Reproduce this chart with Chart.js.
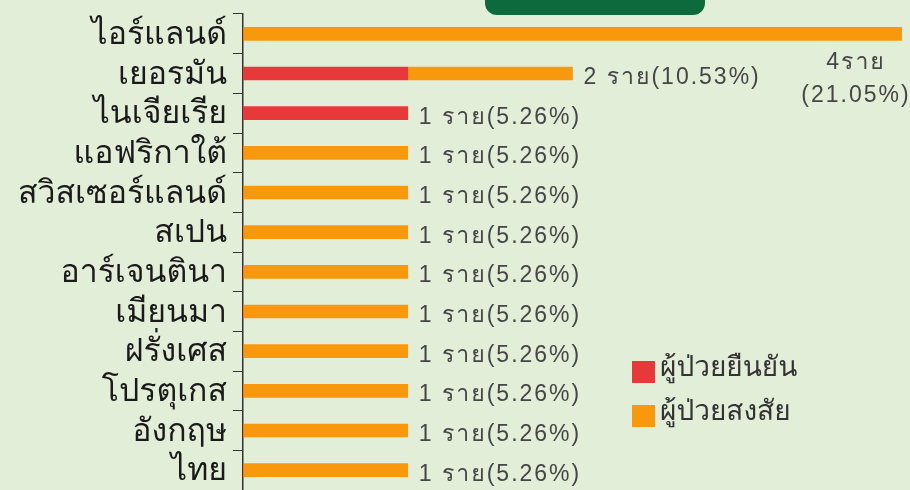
<!DOCTYPE html>
<html>
<head>
<meta charset="utf-8">
<script src="https://cdn.jsdelivr.net/npm/chart.js@4"></script>
<style>
    html, body { margin: 0; padding: 0; background: #e2eed8; }
    #wrap { position: relative; width: 910px; height: 490px; overflow: hidden; }
    #titleBox { position: absolute; left: 485px; top: -24px; width: 220px; height: 39px;
        background: #0c6a3c; border-radius: 12px; }
</style>
</head>
<body>
<div id="wrap">
    <div id="titleBox"></div>
    <canvas id="myChart" width="910" height="490"></canvas>
</div>
<script>
let countries = ['ไอร์แลนด์', 'เยอรมัน', 'ไนเจียเรีย', 'แอฟริกาใต้', 'สวิสเซอร์แลนด์', 'สเปน',
    'อาร์เจนตินา', 'เมียนมา', 'ฝรั่งเศส', 'โปรตุเกส', 'อังกฤษ', 'ไทย'];
let confirmed = [0, 1, 1, 0, 0, 0, 0, 0, 0, 0, 0, 0];
let suspected = [4, 1, 0, 1, 1, 1, 1, 1, 1, 1, 1, 1];
let totalCases = 19;

let thaiFont = 'Loma, "Noto Sans Thai Looped", sans-serif';
let numFont = '"Liberation Sans", Loma, sans-serif';

// ป้ายจำนวน/เปอร์เซ็นต์ท้ายแท่ง
let barLabels = {
    id: 'barLabels',
    afterDatasetsDraw(chart) {
        let ctx = chart.ctx;
        let x = chart.scales.x;
        let y = chart.scales.y;
        ctx.save();
        ctx.fillStyle = '#454545';
        ctx.font = '23px ' + numFont;
        ctx.letterSpacing = '2px';
        ctx.textBaseline = 'middle';
        for (let i = 0; i < countries.length; i++) {
            let n = confirmed[i] + suspected[i];
            let pct = (n / totalCases * 100).toFixed(2) + '%';
            let end = x.getPixelForValue(n);
            let py = y.getPixelForValue(i);
            if (end + 150 > chart.chartArea.right) {
                ctx.textAlign = 'center';
                ctx.fillText(n + 'ราย', 856, py + 29);
                ctx.fillText('(' + pct + ')', 856, py + 62);
            } else {
                ctx.textAlign = 'left';
                ctx.fillText(n + ' ราย(' + pct + ')', end + 11, py + 4);
            }
        }
        ctx.restore();
    }
};

let squareLegend = {
    id: 'squareLegend',
    afterDraw(chart) {
        let ctx = chart.ctx;
        ctx.save();
        ctx.font = '28px ' + thaiFont;
        ctx.textBaseline = 'middle';
        ctx.textAlign = 'left';
        chart.data.datasets.forEach((ds, i) => {
            let top = 361 + i * 44;
            ctx.fillStyle = ds.backgroundColor;
            ctx.fillRect(632, top, 23, 22);
            ctx.fillStyle = '#333';
            ctx.fillText(ds.label, 660, top + 9);
        });
        ctx.restore();
    }
};

let ctx = document.getElementById('myChart').getContext('2d');
let myChart = new Chart(ctx, {
    type: 'bar',
    data: {
        labels: countries,
        datasets: [{
            label: 'ผู้ป่วยยืนยัน',
            data: confirmed,
            backgroundColor: '#e8393a',
            barThickness: 13
        }, {
            label: 'ผู้ป่วยสงสัย',
            data: suspected,
            backgroundColor: '#f8990d',
            barThickness: 13
        }]
    },
    options: {
        indexAxis: 'y',
        responsive: false,
        animation: false,
        layout: { padding: { top: 14, right: 8, bottom: 0, left: 0 } },
        scales: {
            x: {
                stacked: true,
                min: 0,
                max: 4,
                display: false
            },
            y: {
                stacked: true,
                afterFit: (scale) => {
                    scale.width = 243;
                    scale.paddingTop = 0;
                    scale.paddingBottom = 0;
                },
                grid: { drawOnChartArea: false, drawTicks: true, tickLength: 10, color: '#333' },
                border: { display: true, color: '#333', width: 1.5 },
                ticks: {
                    autoSkip: false,
                    labelOffset: 3,
                    color: '#1a1a1a',
                    padding: 6,
                    font: { size: 32, family: thaiFont }
                }
            }
        },
        plugins: {
            legend: { display: false },
            tooltip: { enabled: false }
        }
    },
    plugins: [barLabels, squareLegend]
});
</script>
</body>
</html>
